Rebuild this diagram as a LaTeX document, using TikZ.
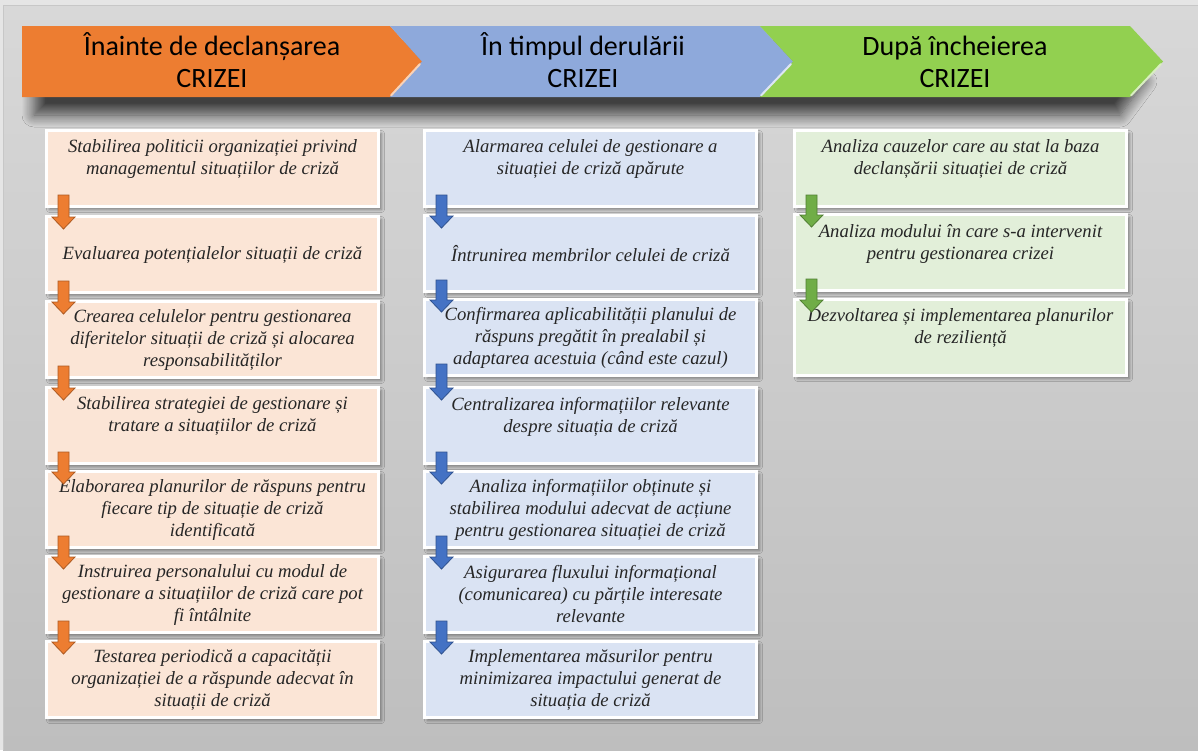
\documentclass[tikz,border=0pt]{standalone}
\usepackage{fontspec}
\setmainfont{Liberation Serif}
\newfontfamily\headfont{Carlito}
\usetikzlibrary{calc,shadows.blur}

\definecolor{bgtop}{HTML}{D8D8D8}
\definecolor{bgbot}{HTML}{BEBEBE}
\definecolor{hdorange}{HTML}{ED7D31}
\definecolor{hdblue}{HTML}{8EA9DB}
\definecolor{hdgreen}{HTML}{92D050}
\definecolor{boxorange}{HTML}{FBE5D6}
\definecolor{boxblue}{HTML}{DAE3F3}
\definecolor{boxgreen}{HTML}{E2EFD9}
\definecolor{arorange}{HTML}{ED7D31}
\definecolor{arorangeline}{HTML}{AE5A21}
\definecolor{arblue}{HTML}{4472C4}
\definecolor{arblueline}{HTML}{2F528F}
\definecolor{argreen}{HTML}{70AD47}
\definecolor{argreenline}{HTML}{507E32}

\tikzset{
  stepbox/.style={rectangle, anchor=north west, minimum width=332pt,
    minimum height=76pt, inner sep=0pt, draw=white, line width=3pt,
    align=center, text=black!85,
    font=\fontsize{18.7}{22}\selectfont\itshape,
    blur shadow={shadow xshift=3pt, shadow yshift=-3pt,
      shadow blur radius=3pt, shadow opacity=40}},
  headtext/.style={anchor=base, inner sep=0pt, text=black,
    font=\headfont\fontsize{28}{32}\selectfont},
  bandshadow/.style={blur shadow={shadow xshift=0pt, shadow yshift=-20pt,
      shadow blur radius=12pt, shadow blur steps=12, shadow opacity=70}},
  bevel/.style={line width=2pt, line cap=round},
  orangearrow/.style={fill=arorange, draw=arorangeline, line width=0.8pt},
  bluearrow/.style={fill=arblue, draw=arblueline, line width=0.8pt},
  greenarrow/.style={fill=argreen, draw=argreenline, line width=0.8pt},
}

% block arrow from the box #1 down into the box #2
\newcommand\flowarrow[3]{%
  \draw[#3, line join=miter]
    ($(#1.south west)+(13,-13)$) -- ($(#1.south west)+(24,-13)$)
    -- ($(#2.north west)+(24,2)$) -- ($(#2.north west)+(30,2)$)
    -- ($(#2.north west)+(18.5,14)$) -- ($(#2.north west)+(7,2)$)
    -- ($(#2.north west)+(13,2)$) -- cycle;}

\begin{document}
\begin{tikzpicture}[x=1pt,y=-1pt]
\useasboundingbox (0,0) rectangle (1198,750);

% slide background
\fill[white!90!black] (0,0) rectangle (1198,750);
\shade[top color=bgtop, bottom color=bgbot] (3,5) rectangle (1198,750);
\draw[black!22, line width=0.8pt] (3,750) -- (3,5) -- (1198,5);

% header band: shadow, then the three chevrons
\fill[gray, bandshadow] (34,40) -- (1120,40) -- (1145,61.5) -- (1120,95) -- (34,95) -- cycle;
\fill[hdorange] (22,26) -- (390,26) -- (422,61.5) -- (390,97) -- (22,97) -- cycle;
\fill[hdblue] (390,26) -- (760,26) -- (793,61.5) -- (760,97) -- (390,97) -- (422,61.5) -- cycle;
\fill[hdgreen] (760,26) -- (1130,26) -- (1163,61.5) -- (1130,97) -- (760,97) -- (793,61.5) -- cycle;
\draw[bevel, hdorange!35!white] (420,64) -- (391,95.5);
\draw[bevel, hdblue!30!white] (791,64) -- (761,95.5);
\draw[bevel, hdgreen!35!white] (1161,64) -- (1131,95.5);

\node[headtext] (h1a) at (212,55) {Înainte de declanșarea};
\node[headtext] (h1b) at (212,87) {CRIZEI};
\node[headtext] (h2a) at (583,55) {În timpul derulării};
\node[headtext] (h2b) at (583,87) {CRIZEI};
\node[headtext] (h3a) at (955,55) {După încheierea};
\node[headtext] (h3b) at (955,87) {CRIZEI};

% before the crisis
\node[stepbox, fill=boxorange] (o1) at (45,129) {Stabilirea politicii organizației privind\\managementul situațiilor de criză\\\mbox{}};
\node[stepbox, fill=boxorange] (o2) at (45,215) {Evaluarea potențialelor situații de criză};
\node[stepbox, fill=boxorange] (o3) at (45,300) {Crearea celulelor pentru gestionarea\\diferitelor situații de criză și alocarea\\responsabilităților};
\node[stepbox, fill=boxorange] (o4) at (45,386) {Stabilirea strategiei de gestionare și\\tratare a situațiilor de criză\\\mbox{}};
\node[stepbox, fill=boxorange] (o5) at (45,470) {Elaborarea planurilor de răspuns pentru\\fiecare tip de situație de criză\\identificată};
\node[stepbox, fill=boxorange] (o6) at (45,555) {Instruirea personalului cu modul de\\gestionare a situațiilor de criză care pot\\fi întâlnite};
\node[stepbox, fill=boxorange] (o7) at (45,640) {Testarea periodică a capacității\\organizației de a răspunde adecvat în\\situații de criză};

% during the crisis
\node[stepbox, fill=boxblue] (b1) at (423,129) {Alarmarea celulei de gestionare a\\situației de criză apărute\\\mbox{}};
\node[stepbox, fill=boxblue] (b2) at (423,214) {Întrunirea membrilor celulei de criză};
\node[stepbox, fill=boxblue] (b3) at (423,298) {Confirmarea aplicabilității planului de\\răspuns pregătit în prealabil și\\adaptarea acestuia (când este cazul)};
\node[stepbox, fill=boxblue] (b4) at (423,386) {Centralizarea informațiilor relevante\\despre situația de criză\\\mbox{}};
\node[stepbox, fill=boxblue] (b5) at (423,470) {Analiza informațiilor obținute și\\stabilirea modului adecvat de acțiune\\pentru gestionarea situației de criză};
\node[stepbox, fill=boxblue] (b6) at (423,555) {Asigurarea fluxului informațional\\(comunicarea) cu părțile interesate\\relevante};
\node[stepbox, fill=boxblue] (b7) at (423,640) {Implementarea măsurilor pentru\\minimizarea impactului generat de\\situația de criză};

% after the crisis
\node[stepbox, fill=boxgreen] (g1) at (793,129) {Analiza cauzelor care au stat la baza\\declanșării situației de criză\\\mbox{}};
\node[stepbox, fill=boxgreen] (g2) at (793,213) {Analiza modului în care s-a intervenit\\pentru gestionarea crizei\\\mbox{}};
\node[stepbox, fill=boxgreen] (g3) at (793,298) {Dezvoltarea și implementarea planurilor\\de reziliență\\\mbox{}};

% arrows between consecutive steps
\flowarrow{o1}{o2}{orangearrow}
\flowarrow{o2}{o3}{orangearrow}
\flowarrow{o3}{o4}{orangearrow}
\flowarrow{o4}{o5}{orangearrow}
\flowarrow{o5}{o6}{orangearrow}
\flowarrow{o6}{o7}{orangearrow}
\flowarrow{b1}{b2}{bluearrow}
\flowarrow{b2}{b3}{bluearrow}
\flowarrow{b3}{b4}{bluearrow}
\flowarrow{b4}{b5}{bluearrow}
\flowarrow{b5}{b6}{bluearrow}
\flowarrow{b6}{b7}{bluearrow}
\flowarrow{g1}{g2}{greenarrow}
\flowarrow{g2}{g3}{greenarrow}
\end{tikzpicture}
\end{document}
